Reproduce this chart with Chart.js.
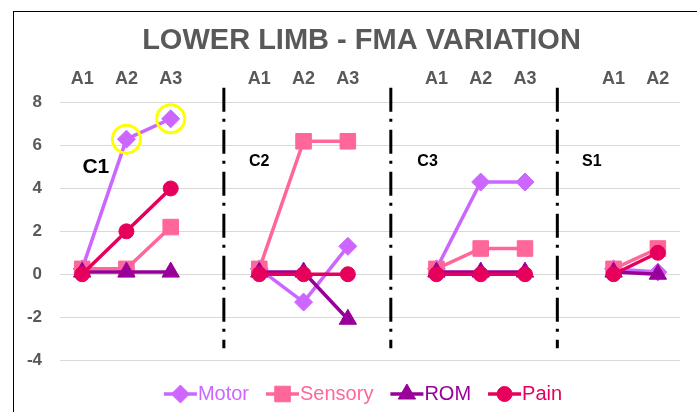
<!DOCTYPE html>
<html><head><meta charset="utf-8">
<script src="https://cdn.jsdelivr.net/npm/chart.js@4.4.1/dist/chart.umd.min.js"></script>
<style>
html,body{margin:0;padding:0;background:#fff;}
#frame{position:absolute;left:13px;top:11px;width:800px;height:600px;border:1px solid #000;box-sizing:border-box;}
canvas{position:absolute;left:0;top:0;}
</style></head><body>
<div id="frame"></div>
<canvas id="c" width="697" height="412"></canvas>
<script>
// ---- data ----
const categories = ['A1','A2','A3','','A1','A2','A3','','A1','A2','A3','','A1','A2'];
const motor   = [0.25, 6.3, 7.25, null, 0.25, -1.3, 1.3, null, 0.25, 4.3, 4.3, null, 0.25, 0.1];
const sensory = [0.25, 0.25, 2.2, null, 0.25, 6.2, 6.2, null, 0.25, 1.2, 1.2, null, 0.25, 1.2];
const rom     = [0.1, 0.1, 0.1, null, 0.1, 0.1, -2.1, null, 0.1, 0.1, 0.1, null, 0.1, 0.0];
const pain    = [0, 2, 4, null, 0, 0, 0, null, 0, 0, 0, null, 0, 1];
const seriesNames = ['Motor','Sensory','ROM','Pain'];
const yTicks = [-4, -2, 0, 2, 4, 6, 8];
const titleText = 'LOWER LIMB - FMA VARIATION';
const groupLabels = ['C1','C2','C3','S1'];
const groupLabelX = [0.31, 4.0, 7.8, 11.51];
const groupLabelY = [5.0, 5.25, 5.25, 5.25];
const separatorX = [3.2, 6.97, 10.73];
const highlightIdx = [1, 2];
const highlight = motor.map((v,i)=> highlightIdx.includes(i) ? v : null);

// ---- styles ----
const FONT = '"Liberation Sans", Arial, sans-serif';
const colors = ['#CC66FF', '#FF6699', '#990099', '#E6005C'];
const styles = ['rectRot', 'rect', 'triangle', 'circle'];
const radii = [9, 11, 10, 7.5];
const seriesData = [motor, sensory, rom, pain];

const datasets = seriesData.map((d,i)=>({
  label: seriesNames[i],
  data: d,
  borderColor: colors[i],
  backgroundColor: colors[i],
  pointBackgroundColor: colors[i],
  pointBorderColor: colors[i],
  pointStyle: styles[i],
  pointRadius: radii[i],
  pointBorderWidth: 1,
  borderWidth: 3.5,
  tension: 0,
  spanGaps: false,
  order: 5 - i
}));
datasets.push({
  label: 'highlight',
  data: highlight,
  showLine: false,
  pointStyle: 'circle',
  pointRadius: 14,
  pointBorderWidth: 3,
  pointBorderColor: '#FFFF00',
  pointBackgroundColor: 'rgba(0,0,0,0)',
  order: 0
});

const extras = {
  id: 'extras',
  beforeDatasetsDraw(chart) {
    const {ctx, scales:{x, y}} = chart;
    ctx.save();
    ctx.strokeStyle = '#000';
    ctx.lineWidth = 3;
    ctx.setLineDash([24, 7, 3, 8]);
    separatorX.forEach(v => {
      const px = x.getPixelForValue(v);
      ctx.beginPath();
      ctx.moveTo(px, y.getPixelForValue(8.7));
      ctx.lineTo(px, y.getPixelForValue(-3.45));
      ctx.stroke();
    });
    ctx.restore();
  },
  afterDraw(chart) {
    const {ctx, scales:{x, y}} = chart;
    ctx.save();
    // title
    ctx.fillStyle = '#595959';
    ctx.font = 'bold 29px ' + FONT;
    ctx.textAlign = 'center';
    ctx.textBaseline = 'middle';
    ctx.fillText(titleText, 361.5, 40.5);
    // group labels
    ctx.fillStyle = '#000';
    groupLabels.forEach((t,i) => {
      ctx.font = 'bold ' + (i === 0 ? 21 : 16) + 'px ' + FONT;
      ctx.fillText(t, x.getPixelForValue(groupLabelX[i]), y.getPixelForValue(groupLabelY[i]));
    });
    // legend
    ctx.font = '20px ' + FONT;
    const lineLen = 33, gapText = 1, spacing = 17;
    const widths = seriesNames.map(n => lineLen + gapText + ctx.measureText(n).width);
    const total = widths.reduce((a,b)=>a+b,0) + spacing*(widths.length-1);
    let lx = 363 - total/2;
    const ly = 394;
    seriesNames.forEach((n,i) => {
      ctx.strokeStyle = colors[i];
      ctx.fillStyle = colors[i];
      ctx.lineWidth = 3.5;
      ctx.setLineDash([]);
      ctx.beginPath();
      ctx.moveTo(lx, ly);
      ctx.lineTo(lx + lineLen, ly);
      ctx.stroke();
      ctx.lineWidth = 1;
      Chart.helpers.drawPoint(ctx, {pointStyle: styles[i], radius: radii[i], borderWidth: 1, rotation: 0}, lx + lineLen/2, ly);
      ctx.fillStyle = colors[i];
      ctx.textAlign = 'left';
      ctx.textBaseline = 'middle';
      ctx.fillText(n, lx + lineLen + gapText, ly);
      lx += widths[i] + spacing;
    });
    ctx.restore();
  }
};

new Chart(document.getElementById('c'), {
  type: 'line',
  data: { labels: categories, datasets },
  options: {
    responsive: false,
    animation: false,
    layout: { padding: { left: 0, right: 4, top: 57.2, bottom: 52 } },
    plugins: {
      legend: { display: false },
      tooltip: { enabled: false },
      title: { display: false }
    },
    scales: {
      x: {
        position: 'top',
        offset: true,
        grid: { display: false, drawTicks: false },
        border: { display: false },
        ticks: {
          color: '#595959',
          font: { family: FONT, size: 18, weight: 'bold' },
          padding: 13,
          autoSkip: false,
          maxRotation: 0,
          callback: (v, i) => categories[i]
        },
        afterFit(s) { s.height = 45.5; }
      },
      y: {
        min: yTicks[0],
        max: yTicks[yTicks.length-1],
        afterBuildTicks(s) { s.ticks = yTicks.map(v => ({value: v})); },
        ticks: {
          color: '#595959',
          font: { family: FONT, size: 17, weight: 'bold' },
          padding: 18
        },
        grid: { color: '#D9D9D9', lineWidth: 1, drawTicks: false },
        border: { display: false },
        afterFit(s) { s.width = 60; }
      }
    }
  },
  plugins: [extras]
});
</script>
</body></html>
